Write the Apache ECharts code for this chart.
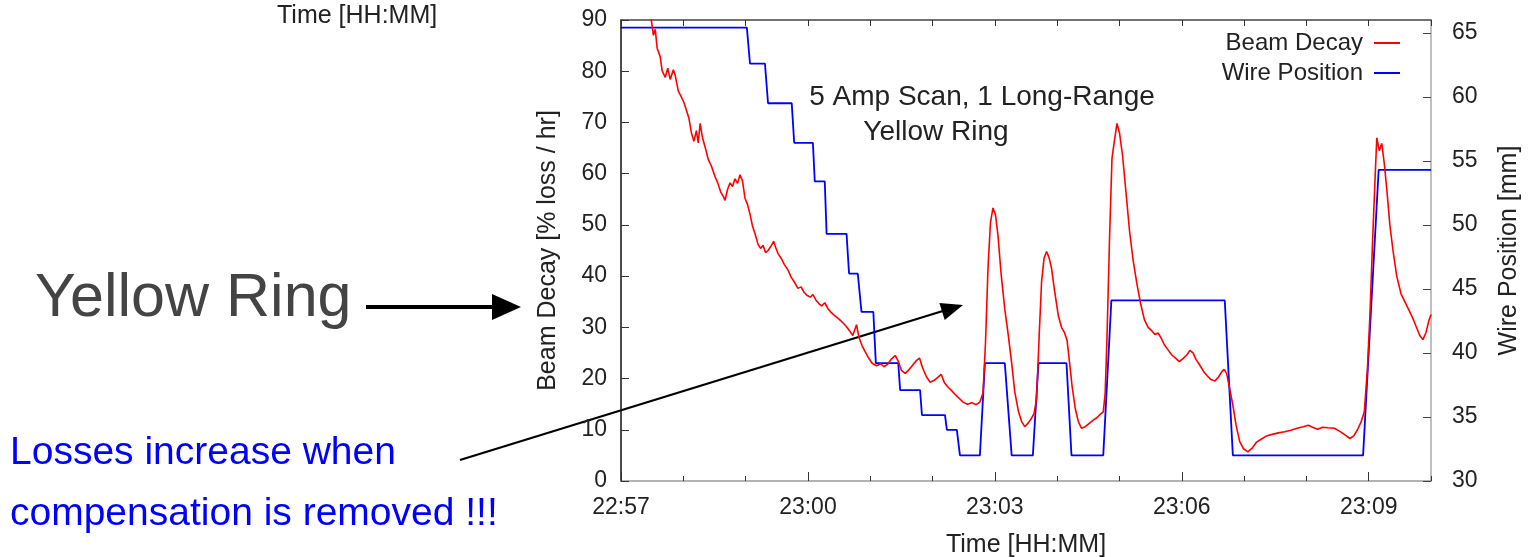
<!DOCTYPE html>
<html>
<head>
<meta charset="utf-8">
<script src="https://cdn.jsdelivr.net/npm/echarts@6/dist/echarts.min.js"></script>
<style>
  html, body { margin: 0; padding: 0; background: #fff; }
  #chart { width: 1535px; height: 557px; }
</style>
</head>
<body>
<div id="chart"></div>
<script>
// minutes after 22:57
const decayTimes = [
  0.47, 0.52, 0.55, 0.58, 0.63, 0.66, 0.71, 0.75, 0.79, 0.84, 0.87, 0.92, 0.96, 1.01, 1.05, 1.09,
  1.13, 1.17, 1.21, 1.24, 1.27, 1.31, 1.35, 1.40, 1.45, 1.51, 1.55, 1.60, 1.64, 1.67, 1.71, 1.75,
  1.79, 1.83, 1.87, 1.91, 1.95, 1.99, 2.03, 2.07, 2.11, 2.15, 2.20, 2.24, 2.28, 2.32, 2.36, 2.41,
  2.45, 2.48, 2.52, 2.57, 2.62, 2.68, 2.73, 2.78, 2.84, 2.89, 2.94, 2.99, 3.04, 3.08, 3.13, 3.18,
  3.22, 3.27, 3.32, 3.38, 3.44, 3.50, 3.56, 3.62, 3.67, 3.72, 3.78, 3.82, 3.87, 3.92, 3.97, 4.03,
  4.10, 4.17, 4.22, 4.28, 4.34, 4.40, 4.45, 4.50, 4.56, 4.62, 4.68, 4.74, 4.79, 4.84, 4.90, 4.96,
  5.02, 5.08, 5.14, 5.19, 5.25, 5.31, 5.37, 5.43, 5.49, 5.56, 5.63, 5.70, 5.76, 5.81, 5.85, 5.89,
  5.93, 5.97, 6.01, 6.05, 6.10, 6.16, 6.21, 6.27, 6.32, 6.38, 6.43, 6.48, 6.54, 6.59, 6.63, 6.67,
  6.71, 6.75, 6.79, 6.83, 6.87, 6.91, 6.96, 7.02, 7.07, 7.12, 7.16, 7.20, 7.24, 7.29, 7.34, 7.39,
  7.45, 7.52, 7.58, 7.64, 7.70, 7.74, 7.77, 7.80, 7.84, 7.88, 7.92, 7.96, 8.00, 8.05, 8.10, 8.16,
  8.22, 8.28, 8.34, 8.40, 8.46, 8.52, 8.57, 8.62, 8.67, 8.72, 8.78, 8.84, 8.90, 8.96, 9.02, 9.08,
  9.13, 9.18, 9.23, 9.29, 9.35, 9.41, 9.47, 9.53, 9.59, 9.64, 9.68, 9.72, 9.77, 9.82, 9.87, 9.93,
  9.99, 10.06, 10.13, 10.20, 10.28, 10.36, 10.45, 10.55, 10.65, 10.75, 10.85, 10.95, 11.03, 11.10, 11.18, 11.26,
  11.35, 11.45, 11.55, 11.63, 11.70, 11.76, 11.82, 11.88, 11.93, 11.98, 12.02, 12.06, 12.10, 12.13, 12.17, 12.21,
  12.25, 12.29, 12.34, 12.39, 12.45, 12.52, 12.58, 12.64, 12.70, 12.76, 12.82, 12.87, 12.92, 12.97, 13.0
];
const decayValues = [
  91.5, 87.0, 88.2, 84.5, 82.8, 80.1, 78.8, 80.6, 78.4, 80.3, 79.2, 76.1, 75.2, 73.9, 72.4, 70.8,
  68.0, 66.3, 68.4, 66.0, 69.8, 66.9, 65.2, 62.8, 61.5, 59.4, 58.3, 56.4, 55.6, 54.8, 56.9, 58.2,
  57.5, 59.0, 58.1, 59.8, 58.6, 55.2, 54.0, 52.1, 49.8, 48.3, 46.2, 45.4, 46.0, 44.6, 45.0, 45.9,
  46.8, 45.7, 44.4, 43.5, 42.3, 41.2, 39.8, 38.9, 37.6, 37.9, 36.8, 36.2, 35.9, 36.4, 35.3, 34.6,
  34.2, 34.8, 33.7, 32.8, 32.2, 31.6, 30.9, 30.1, 29.3, 28.4, 30.5, 28.0, 26.4, 25.2, 24.1, 23.0,
  22.5, 22.9, 22.3, 22.8, 23.8, 24.5, 23.4, 21.6, 21.0, 21.7, 22.6, 23.5, 24.0, 22.1, 20.4, 19.3,
  19.6, 20.2, 20.8, 19.2, 18.3, 17.6, 16.8, 16.1, 15.4, 15.0, 15.3, 14.9, 15.4, 17.2, 27.0, 41.5,
  50.5, 53.3, 52.0, 48.0, 40.5, 33.5, 29.0, 23.0, 17.4, 13.5, 11.6, 10.6, 11.4, 12.3, 13.2, 16.1,
  28.0, 38.9, 43.5, 44.8, 43.6, 41.5, 37.0, 32.2, 30.0, 28.9, 27.4, 23.0, 18.5, 14.2, 11.6, 10.3,
  10.6, 11.3, 11.9, 12.4, 13.1, 13.5, 17.0, 28.0, 47.0, 63.0, 66.5, 69.8, 68.0, 63.5, 57.0, 49.0,
  43.0, 38.5, 34.6, 31.5, 30.0, 29.3, 28.6, 28.9, 27.9, 26.6, 25.6, 24.6, 24.0, 23.3, 23.9, 24.6,
  25.5, 25.0, 23.7, 22.6, 21.4, 20.5, 19.8, 19.5, 20.3, 21.3, 21.8, 21.0, 18.0, 14.8, 11.0, 7.7,
  6.3, 5.7, 6.4, 7.6, 8.2, 8.8, 9.1, 9.4, 9.6, 9.9, 10.3, 10.6, 10.9, 10.5, 10.1, 10.5,
  10.4, 10.3, 9.6, 8.9, 8.3, 8.8, 10.0, 11.6, 13.5, 22.0, 32.4, 46.0, 58.4, 67.0, 64.5, 65.9,
  62.0, 57.0, 50.0, 45.0, 40.0, 36.5, 35.0, 33.5, 32.0, 30.2, 28.4, 27.6, 29.0, 31.5, 32.5
];

const wireTimes = [
  0, 2.02, 2.07, 2.31, 2.36, 2.74, 2.78, 3.08, 3.11, 3.27, 3.30, 3.62, 3.66, 3.80, 3.86, 4.05,
  4.09, 4.45, 4.48, 4.80, 4.83, 5.20, 5.23, 5.39, 5.44, 5.76, 5.84, 6.16, 6.27, 6.61, 6.70, 7.15,
  7.23, 7.74, 7.87, 9.69, 9.82, 11.91, 12.16, 13
];
const wireValues = [
  65.4, 65.4, 62.6, 62.6, 59.5, 59.5, 56.4, 56.4, 53.4, 53.4, 49.3, 49.3, 46.2, 46.2, 43.2, 43.2,
  39.2, 39.2, 37.1, 37.1, 35.15, 35.15, 34.0, 34.0, 32.0, 32.0, 39.2, 39.2, 32.0, 32.0, 39.2, 39.2,
  32.0, 32.0, 44.1, 44.1, 32.0, 32.0, 54.3, 54.3
];

const startMinute = 22 * 60 + 57;
const xTickLabel = function (v) {
  const m = startMinute + Math.round(v);
  const hh = Math.floor(m / 60) % 24;
  const mm = m % 60;
  return String(hh).padStart(2, '0') + ':' + String(mm).padStart(2, '0');
};

const fontFamily = '"Liberation Sans", Arial, sans-serif';
const chart = echarts.init(document.getElementById('chart'));

const axisText = { color: '#222', fontSize: 23, fontFamily: fontFamily };

const option = {
  animation: false,
  backgroundColor: '#fff',
  textStyle: { fontFamily: fontFamily },
  grid: { left: 621, right: 104, top: 20, bottom: 76, containLabel: false, outerBoundsMode: 'none' },
  legend: {
    data: [
      { name: 'Beam Decay', icon: 'rect' },
      { name: 'Wire Position', icon: 'rect' }
    ],
    orient: 'vertical',
    align: 'right',
    right: 135,
    top: 31,
    padding: 0,
    itemWidth: 26,
    itemHeight: 2,
    itemGap: 6,
    textStyle: { fontSize: 24, color: '#222', fontFamily: fontFamily, padding: [0, 6, 0, 0] }
  },
  xAxis: [
    {
      type: 'value', min: 0, max: 13, interval: 3, position: 'bottom',
      axisLine: { onZero: false, lineStyle: { color: '#999', width: 1.5 } },
      axisTick: { inside: true, length: 9, lineStyle: { color: '#333' } },
      axisLabel: { ...axisText, margin: 15, showMaxLabel: false, formatter: xTickLabel },
      splitLine: { show: false },
      name: 'Time [HH:MM]', nameLocation: 'middle', nameGap: 52,
      nameTextStyle: { fontSize: 25, color: '#222', fontFamily: fontFamily }
    },
    {
      type: 'value', min: 0, max: 13, interval: 1, position: 'bottom',
      axisLine: { show: false, onZero: false },
      axisTick: { inside: true, length: 5, lineStyle: { color: '#333' } },
      axisLabel: { show: false },
      splitLine: { show: false }
    },
    {
      type: 'value', min: 0, max: 13, interval: 1, position: 'top',
      axisLine: { onZero: false, lineStyle: { color: '#444', width: 1.5 } },
      axisTick: { inside: true, length: 6, lineStyle: { color: '#333' } },
      axisLabel: { show: false },
      splitLine: { show: false }
    }
  ],
  yAxis: [
    {
      type: 'value', min: 0, max: 90, interval: 10, position: 'left',
      axisLine: { show: true, onZero: false, lineStyle: { color: '#111', width: 1.5 } },
      axisTick: { show: true, inside: true, length: 8, lineStyle: { color: '#333' } },
      axisLabel: { ...axisText, margin: 14 },
      splitLine: { show: false },
      name: 'Beam Decay [% loss / hr]', nameLocation: 'middle', nameGap: 60, nameRotate: 90,
      nameTextStyle: { fontSize: 25, color: '#222', fontFamily: fontFamily }
    },
    {
      type: 'value', min: 30, max: 66, interval: 5, position: 'right',
      axisLine: { show: true, onZero: false, lineStyle: { color: '#aaa', width: 1.5 } },
      axisTick: { show: true, inside: true, length: 8, lineStyle: { color: '#444' } },
      axisLabel: { ...axisText, margin: 21, showMaxLabel: false },
      splitLine: { show: false },
      name: 'Wire Position [mm]', nameLocation: 'middle', nameGap: 66, nameRotate: 90,
      nameTextStyle: { fontSize: 25, color: '#222', fontFamily: fontFamily }
    }
  ],
  graphic: [
    { type: 'text', left: 277, top: 4, style: { text: 'Time [HH:MM]', font: '25px ' + fontFamily, fill: '#222' } },
    { type: 'text', x: 982, y: 97, style: { text: '5 Amp Scan, 1 Long-Range', font: '28px ' + fontFamily, fill: '#222', textAlign: 'center', textVerticalAlign: 'middle' } },
    { type: 'text', x: 936, y: 132, style: { text: 'Yellow Ring', font: '28px ' + fontFamily, fill: '#222', textAlign: 'center', textVerticalAlign: 'middle' } },
    { type: 'text', x: 35, y: 299, style: { text: 'Yellow Ring', font: '61px ' + fontFamily, fill: '#444', textVerticalAlign: 'middle' } },
    { type: 'line', shape: { x1: 366, y1: 307, x2: 496, y2: 307 }, style: { stroke: '#000', lineWidth: 4 } },
    { type: 'polygon', shape: { points: [[492, 294], [521, 307], [492, 320]] }, style: { fill: '#000' } },
    { type: 'text', x: 10, y: 453, style: { text: 'Losses increase when', font: '39px ' + fontFamily, fill: '#0000ff', textVerticalAlign: 'middle' } },
    { type: 'text', x: 10, y: 514, style: { text: 'compensation is removed !!!', font: '39px ' + fontFamily, fill: '#0000ff', textVerticalAlign: 'middle' } },
    { type: 'line', shape: { x1: 460, y1: 460, x2: 946, y2: 310 }, style: { stroke: '#000', lineWidth: 2.2 } },
    { type: 'polygon', shape: { points: [[963, 305], [939.4, 302.9], [944.7, 320.1]] }, style: { fill: '#000' } }
  ],
  series: [
    {
      name: 'Wire Position',
      type: 'line',
      xAxisIndex: 0,
      yAxisIndex: 1,
      symbol: 'none',
      color: '#0000ff',
      lineStyle: { color: '#0000ff', width: 1.8 },
      data: wireTimes.map((t, i) => [t, wireValues[i]])
    },
    {
      name: 'Beam Decay',
      type: 'line',
      xAxisIndex: 0,
      yAxisIndex: 0,
      symbol: 'none',
      color: '#ff0000',
      clip: true,
      lineStyle: { color: '#ff0000', width: 1.6 },
      data: decayTimes.map((t, i) => [t, decayValues[i]])
    }
  ]
};

chart.setOption(option);
</script>
</body>
</html>
